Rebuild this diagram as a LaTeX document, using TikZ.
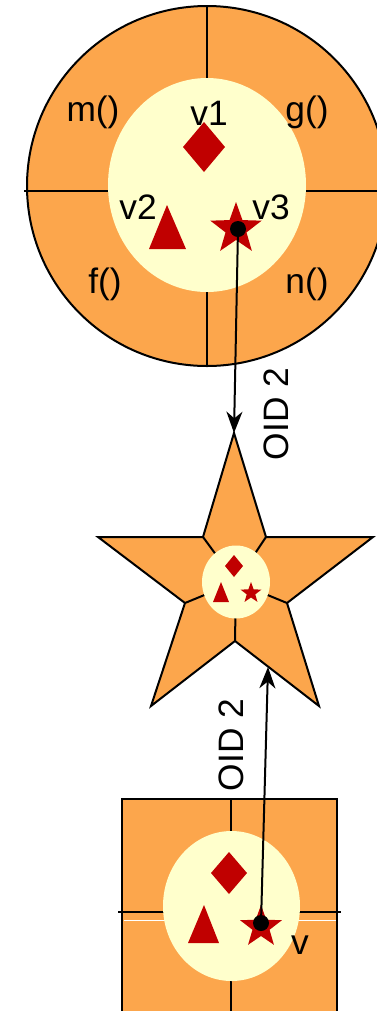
\documentclass[tikz,border=0pt]{standalone}
\usepackage{fontspec}
\setmainfont{Liberation Sans}
\usetikzlibrary{shapes.geometric,arrows.meta}
\definecolor{objorange}{RGB}{252,166,76}
\definecolor{objpale}{RGB}{255,255,204}
\definecolor{objred}{RGB}{192,0,0}
\begin{document}
\begin{tikzpicture}[x=0.75pt, y=-0.75pt, every node/.style={font=\fontsize{26.5}{30}\selectfont},
  shell/.style={fill=objorange, draw=black, line width=1.5pt},
  part/.style={draw=black, line width=1.5pt},
  core/.style={fill=objpale},
  sym/.style={fill=objred},
  vstar/.style={star, star points=5, star point ratio=2.45, fill=objred, inner sep=0pt},
  dot/.style={circle, fill=black, inner sep=0pt, minimum size=12pt},
  link/.style={-{Stealth[length=16pt,width=12pt,inset=5pt]}, line width=1.5pt},
  oid/.style={rotate=90}]
  \useasboundingbox (0,0) rectangle (376,1011);

  % object with methods
  \draw[shell] (207,186) circle[radius=180];
  \draw[part] (207,6) -- (207,366);
  \draw[part] (24,191) -- (390,191);
  \fill[core] (207,185) ellipse[x radius=99, y radius=107];
  \node (m) at (93,112) {m()};
  \node (g) at (307,112) {g()};
  \node (f) at (105,284) {f()};
  \node (n) at (307,284) {n()};
  \node (v1) at (209,113) {v1};
  \node (v2) at (138,207) {v2};
  \node (v3) at (271,207) {v3};
  \fill[sym] (204,122) -- (225,147) -- (204,172) -- (183,147) -- cycle;
  \fill[sym] (167,205) -- (186,249) -- (149,249) -- cycle;
  \node[vstar, minimum size=40.5pt] (s1) at (236,229) {};
  \node[dot] (d1) at (238,229) {};

  % star object
  \draw[shell] (234,433) coordinate (tip1) -- (266,537) -- (373,537) -- (287,603)
    -- (319,706) -- (235,641) -- (151,706) -- (185,603) -- (98,537) -- (203,537) -- cycle;
  \foreach \p in {(266,537),(287,603),(235,641),(185,603),(203,537)}
    \draw[part] \p -- (236,582);
  \fill[core] (236,582) ellipse[x radius=34, y radius=36.5];
  \fill[sym] (234,555) -- (243,566) -- (234,577) -- (225,566) -- cycle;
  \fill[sym] (221,582) -- (229,602) -- (213,602) -- cycle;
  \node[vstar, minimum size=16.5pt] (s2) at (251,593) {};
  \coordinate (tip2) at (268,667);

  % box object
  \draw[shell] (122,799) rectangle (337,1030);
  \draw[part] (231,799) -- (231,1030);
  \draw[part] (118,912) -- (341,912);
  \draw[white, line width=0.5pt] (124,920) -- (336,920);
  \fill[core] (231.5,906) ellipse[x radius=68.5, y radius=75];
  \fill[sym] (229,852) -- (247,873) -- (229,894) -- (211,873) -- cycle;
  \fill[sym] (204,905) -- (219,943) -- (188,943) -- cycle;
  \node[vstar, minimum size=33pt] (s3) at (261,927) {};
  \node[dot] (d2) at (261,923) {};
  \node (v) at (300,945) {v};

  \draw[link] (d1.center) -- (tip1);
  \draw[link] (d2.center) -- (tip2);
  \node[oid] (oid1) at (276,414) {OID 2};
  \node[oid] (oid2) at (231,745) {OID 2};
\end{tikzpicture}
\end{document}
